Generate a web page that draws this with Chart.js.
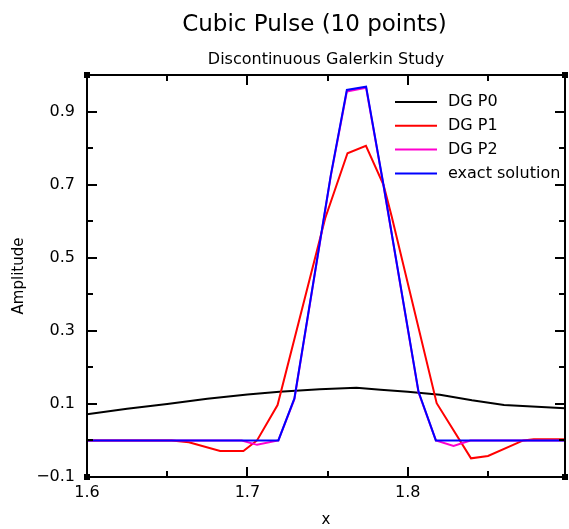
<!DOCTYPE html>
<html><head><meta charset="utf-8">
<script src="https://cdn.jsdelivr.net/npm/chart.js@4.4.1/dist/chart.umd.min.js"></script>
<style>html,body{margin:0;padding:0;background:#fff}canvas{display:block}</style>
</head><body>
<canvas id="c" width="569" height="529"></canvas>
<script>
// ---- data ----
const seriesLabels = ['DG P0', 'DG P1', 'DG P2', 'exact solution'];
const p0X = [1.6, 1.625, 1.65, 1.675, 1.70, 1.72, 1.745, 1.768, 1.783, 1.80, 1.82, 1.84, 1.86, 1.898];
const p0Y = [0.072, 0.087, 0.100, 0.114, 0.126, 0.133, 0.140, 0.144, 0.139, 0.133, 0.125, 0.110, 0.097, 0.088];
const p1X = [1.6, 1.6528, 1.6635, 1.683, 1.6975, 1.706, 1.7188, 1.7485, 1.7624, 1.7739, 1.7849, 1.790, 1.818, 1.8394, 1.850, 1.872, 1.8785, 1.898];
const p1Y = [0, 0, -0.005, -0.029, -0.029, 0, 0.097, 0.608, 0.786, 0.806, 0.699, 0.612, 0.102, -0.049, -0.0425, 0, 0.003, 0.003];
const p2X = [1.6, 1.6965, 1.706, 1.7193, 1.7293, 1.752, 1.762, 1.774, 1.7845, 1.8067, 1.8175, 1.8285, 1.839, 1.898];
const p2Y = [0, 0, -0.012, 0, 0.113, 0.724, 0.955, 0.965, 0.706, 0.131, 0, -0.015, 0, 0];
const exactX = [1.6, 1.7193, 1.7293, 1.752, 1.762, 1.774, 1.7845, 1.8067, 1.8175, 1.898];
const exactY = [0, 0, 0.115, 0.726, 0.959, 0.968, 0.708, 0.133, 0, 0];
const xRange = [1.6, 1.898];
const yRange = [-0.1, 1.0];
const xMajorTicks = [1.6, 1.7, 1.8];
const xMinorTicks = [1.65, 1.75, 1.85];
const yMajorTicks = [-0.1, 0.1, 0.3, 0.5, 0.7, 0.9];
const yMinorTicks = [0.0, 0.2, 0.4, 0.6, 0.8];
const seriesColors = ['#000000', '#ff0000', '#ff00d0', '#0000ff'];

const FONT = "'DejaVu Sans', sans-serif";
const pts = (xs, ys) => xs.map((x, i) => ({x: x, y: ys[i]}));
const seriesX = [p0X, p1X, p2X, exactX];
const seriesY = [p0Y, p1Y, p2Y, exactY];

const framePlugin = {
  id: 'frame',
  afterDatasetsDraw(chart) {
    const {ctx, chartArea: a, scales: {x, y}} = chart;
    ctx.save();
    ctx.strokeStyle = '#000';
    ctx.lineWidth = 2;
    ctx.lineCap = 'butt';
    const line = (x1, y1, x2, y2) => { ctx.beginPath(); ctx.moveTo(x1, y1); ctx.lineTo(x2, y2); ctx.stroke(); };
    ctx.strokeRect(a.left, a.top, a.right - a.left, a.bottom - a.top);
    const major = 10, minor = 6;
    xMajorTicks.forEach(v => { const p = Math.round(x.getPixelForValue(v)); line(p, a.bottom, p, a.bottom - major); line(p, a.top, p, a.top + major); });
    xMinorTicks.forEach(v => { const p = Math.round(x.getPixelForValue(v)); line(p, a.bottom, p, a.bottom - minor); line(p, a.top, p, a.top + minor); });
    yMajorTicks.forEach(v => { const p = Math.round(y.getPixelForValue(v)); line(a.left, p, a.left + major, p); line(a.right, p, a.right - major, p); });
    yMinorTicks.forEach(v => { const p = Math.round(y.getPixelForValue(v)); line(a.left, p, a.left + minor, p); line(a.right, p, a.right - minor, p); });
    // corner markers
    ctx.fillStyle = '#000';
    [[a.left, a.top], [a.right, a.top], [a.left, a.bottom], [a.right, a.bottom]].forEach(([cx, cy]) => {
      ctx.fillRect(cx - 3, cy - 3, 6, 6);
    });
    // legend
    ctx.font = '16px ' + FONT;
    ctx.textBaseline = 'middle';
    ctx.textAlign = 'left';
    chart.data.datasets.forEach((ds, i) => {
      const yy = a.top + 27 + i * 23.8;
      ctx.strokeStyle = ds.borderColor;
      ctx.lineWidth = 2;
      line(a.left + 308, yy, a.left + 350, yy);
      ctx.fillStyle = '#000';
      ctx.fillText(ds.label, a.left + 361, yy);
    });
    ctx.restore();
  }
};

new Chart(document.getElementById('c'), {
  type: 'line',
  data: {
    datasets: seriesLabels.map((lab, i) => ({
      label: lab,
      data: pts(seriesX[i], seriesY[i]),
      borderColor: seriesColors[i],
      backgroundColor: seriesColors[i],
      borderWidth: 2,
      pointRadius: 0,
      tension: 0,
      fill: false,
      order: 4 - i
    }))
  },
  options: {
    responsive: false,
    animation: false,
    devicePixelRatio: 1,
    layout: {padding: {left: 0, right: 4, top: 0, bottom: 0}},
    plugins: {
      legend: {display: false},
      tooltip: {enabled: false},
      title: {display: true, text: 'Cubic Pulse (10 points)\u2003', fullSize: false, color: '#000',
        font: {family: FONT, size: 23, weight: 'normal'}, padding: {top: 11.2, bottom: 4}},
      subtitle: {display: true, text: 'Discontinuous Galerkin Study', fullSize: false, color: '#000',
        font: {family: FONT, size: 16, weight: 'normal'}, padding: {top: 7.6, bottom: 5.4}}
    },
    scales: {
      x: {
        type: 'linear', min: xRange[0], max: xRange[1],
        grid: {display: false, drawTicks: false},
        border: {display: false},
        afterBuildTicks: s => { s.ticks = xMajorTicks.map(v => ({value: v})); },
        afterFit: s => { s.height = 52; },
        ticks: {color: '#000', font: {family: FONT, size: 16}, padding: 6, maxRotation: 0,
          callback: v => Number(v).toFixed(1)},
        title: {display: true, text: 'x', color: '#000', font: {family: FONT, size: 15}, padding: {top: 0, bottom: 0}}
      },
      y: {
        type: 'linear', min: yRange[0], max: yRange[1],
        grid: {display: false, drawTicks: false},
        border: {display: false},
        afterBuildTicks: s => { s.ticks = yMajorTicks.map(v => ({value: v})); },
        afterFit: s => { s.width = 87; },
        ticks: {color: '#000', font: {family: FONT, size: 16}, padding: 12,
          callback: v => Number(v).toFixed(1).replace('-', '\u2212')},
        title: {display: true, text: 'Amplitude', color: '#000', font: {family: FONT, size: 15}, padding: {top: 10, bottom: 0}}
      }
    }
  },
  plugins: [framePlugin]
});
</script>
</body></html>
